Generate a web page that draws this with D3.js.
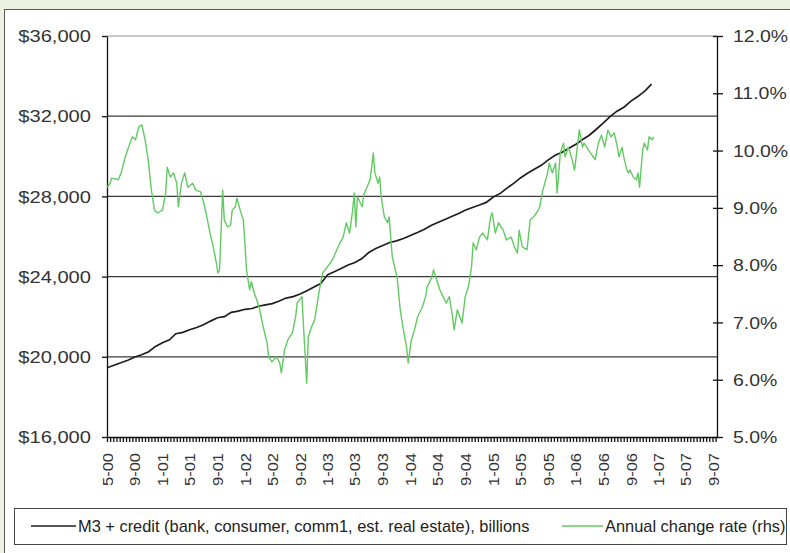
<!DOCTYPE html>
<html>
<head>
<meta charset="utf-8">
<script src="https://cdn.jsdelivr.net/npm/d3@7"></script>
<style>
  body { margin: 0; background: #edf2e0; }
  svg { display: block; font-family: "Liberation Sans", Arial, sans-serif; }
</style>
</head>
<body>
<script>
var svgWidth = 790;
var svgHeight = 553;

var margin = { top: 36, right: 73, bottom: 116, left: 107 };
var width = svgWidth - margin.left - margin.right;
var height = svgHeight - margin.top - margin.bottom;

// M3 + credit, billions, one value per month from May 2000
var m3Start = "2000-05-01";
var m3Credit = [
  19450, 19580, 19700, 19830, 19990, 20100, 20250, 20520, 20700, 20850,
  21150, 21220, 21350, 21460, 21600, 21780, 21950, 22000, 22220, 22280,
  22370, 22410, 22520, 22590, 22650, 22780, 22930, 23000, 23130, 23300,
  23480, 23650, 24100, 24250, 24400, 24580, 24700, 24900, 25200, 25400,
  25550, 25700, 25780, 25900, 26050, 26200, 26350, 26550, 26700, 26850,
  27000, 27150, 27320, 27450, 27570, 27700, 27970, 28150, 28400, 28650,
  28920, 29150, 29350, 29550, 29820, 30050, 30200, 30400, 30600, 30850,
  31050, 31350, 31650, 31980, 32250, 32450, 32750, 32980, 33250, 33600
];

// annual change rate (%), [weeks since first obs, value]
var rateStart = "2000-05-01";
var rateSeries = [
  [0, 9.36], [2, 9.43], [3, 9.52], [7, 9.49], [9, 9.61], [11, 9.84], [13, 10.01],
  [16, 10.24], [18, 10.19], [20, 10.41], [22, 10.45], [24, 10.19], [26, 9.84],
  [28, 9.31], [30, 8.96], [32, 8.91], [35, 8.96], [37, 9.26], [38, 9.71],
  [40, 9.54], [42, 9.61], [44, 9.43], [45, 9.02], [47, 9.43], [49, 9.61],
  [51, 9.36], [54, 9.43], [56, 9.31], [59, 9.28], [61, 9.09], [63, 8.84],
  [65, 8.56], [67, 8.32], [69, 8.04], [70, 7.86], [71, 7.92], [73, 9.31],
  [74, 8.79], [76, 8.67], [78, 8.70], [79, 8.96], [81, 9.02], [82, 9.17],
  [84, 8.96], [86, 8.79], [87, 8.39], [88, 7.92], [90, 7.57], [91, 7.71],
  [93, 7.51], [96, 7.27], [98, 6.99], [101, 6.64], [102, 6.40], [104, 6.31],
  [107, 6.40], [109, 6.29], [110, 6.12], [112, 6.52], [114, 6.69], [117, 6.82],
  [119, 7.10], [120, 7.34], [123, 7.45], [124, 6.92], [126, 5.94], [127, 6.75],
  [129, 6.92], [131, 7.04], [132, 7.22], [134, 7.57], [136, 7.86], [139, 7.97],
  [141, 8.04], [143, 8.14], [145, 8.27], [147, 8.39], [149, 8.49], [151, 8.74],
  [153, 8.56], [155, 8.96], [156, 9.26], [157, 8.67], [158, 9.19], [161, 9.02],
  [162, 9.23], [164, 9.36], [166, 9.49], [167, 9.71], [168, 9.96], [169, 9.61],
  [171, 9.43], [172, 9.54], [173, 9.19], [175, 8.84], [177, 8.74], [178, 8.84],
  [179, 8.49], [180, 8.14], [183, 7.79], [185, 7.22], [187, 6.87], [189, 6.57],
  [190, 6.29], [192, 6.69], [194, 6.87], [196, 7.10], [199, 7.27], [201, 7.45],
  [202, 7.62], [205, 7.79], [206, 7.92], [208, 7.74], [210, 7.57], [212, 7.45],
  [214, 7.34], [216, 7.45], [218, 7.10], [219, 6.87], [221, 7.22], [224, 6.99],
  [226, 7.45], [228, 7.62], [230, 7.97], [231, 8.39], [233, 8.27], [235, 8.49],
  [237, 8.56], [240, 8.44], [242, 8.84], [243, 8.91], [245, 8.56], [247, 8.74],
  [250, 8.61], [252, 8.44], [255, 8.49], [257, 8.32], [259, 8.21], [260, 8.61],
  [262, 8.32], [265, 8.27], [267, 8.79], [269, 8.84], [271, 8.91], [273, 9.02],
  [275, 9.31], [278, 9.61], [279, 9.78], [281, 9.61], [283, 9.78], [284, 9.26],
  [286, 9.96], [288, 10.13], [289, 9.89], [291, 10.06], [293, 9.89], [295, 9.66],
  [296, 9.89], [298, 10.36], [300, 10.06], [301, 10.13], [305, 9.96], [308, 9.84],
  [310, 10.13], [312, 10.27], [314, 10.06], [316, 10.36], [318, 10.24], [320, 10.31],
  [322, 10.06], [323, 9.89], [325, 10.06], [326, 9.89], [328, 9.66], [329, 9.61],
  [330, 9.66], [332, 9.54], [334, 9.49], [335, 9.61], [336, 9.36], [337, 9.71],
  [338, 10.01], [339, 10.13], [341, 10.01], [342, 10.24], [344, 10.19], [345, 10.24]
];

var leftTicks = [16000, 20000, 24000, 28000, 32000, 36000];
var gridValues = [20000, 24000, 28000, 32000];
var rightTicks = [5, 6, 7, 8, 9, 10, 11, 12];
var axisStart = "2000-05-01";
var axisEnd = "2007-09-16";

var legendLabels = [
  "M3 + credit (bank, consumer, comm1, est. real estate), billions",
  "Annual change rate (rhs)"
];

var parseDate = d3.timeParse("%Y-%m-%d");

var m3Data = m3Credit.map(function(v, i) {
  return { date: d3.timeMonth.offset(parseDate(m3Start), i), value: v };
});
var rateData = rateSeries.map(function(d) {
  return { date: d3.timeDay.offset(parseDate(rateStart), d[0] * 7), value: d[1] };
});

var svg = d3.select("body").append("svg")
  .attr("width", svgWidth)
  .attr("height", svgHeight);

// chart area frame
svg.append("rect")
  .attr("x", 4.5).attr("y", 9.5)
  .attr("width", 900).attr("height", 900)
  .attr("fill", "#fff")
  .attr("stroke", "#5a5a5a");

var chartGroup = svg.append("g")
  .attr("transform", `translate(${margin.left}, ${margin.top})`);

var xScale = d3.scaleTime()
  .domain([parseDate(axisStart), parseDate(axisEnd)])
  .range([0, width]);
var yLeft = d3.scaleLinear().domain([16000, 36000]).range([height, 0]);
var yRight = d3.scaleLinear().domain([5, 12]).range([height, 0]);

// top border and gridlines
chartGroup.append("line")
  .attr("x1", 0).attr("x2", width)
  .attr("y1", yLeft(36000)).attr("y2", yLeft(36000))
  .attr("stroke", "#c8c8c8").attr("stroke-width", 2);

chartGroup.selectAll(".grid")
  .data(gridValues).enter()
  .append("line")
  .attr("class", "grid")
  .attr("x1", 0).attr("x2", width)
  .attr("y1", d => yLeft(d)).attr("y2", d => yLeft(d))
  .attr("stroke", "#3a3a3a").attr("stroke-width", 1.2);

// left axis
var leftAxis = d3.axisLeft(yLeft)
  .tickValues(leftTicks)
  .tickSize(5)
  .tickSizeOuter(0)
  .tickFormat(d3.format("$,"));
var gl = chartGroup.append("g").attr("class", "y-axis").call(leftAxis);
gl.selectAll("text")
  .attr("x", -16 / 1.22)
  .attr("dy", "0.34em")
  .attr("transform", "scale(1.22,1)")
  .style("font-size", "16.5px")
  .style("fill", "#333");

// right axis
var rightAxis = d3.axisRight(yRight)
  .tickValues(rightTicks)
  .tickSize(6)
  .tickSizeOuter(0)
  .tickFormat(d => d.toFixed(1) + "%");
var gr = chartGroup.append("g")
  .attr("class", "y-axis-right")
  .attr("transform", `translate(${width}, 0)`)
  .call(rightAxis);
gr.selectAll(".tick line").attr("x1", -4);
gr.selectAll("text")
  .attr("x", 16 / 1.18)
  .attr("dy", "0.34em")
  .attr("transform", "scale(1.18,1)")
  .style("font-size", "16.5px")
  .style("fill", "#333");

// bottom axis: small marks every two weeks
var tickDates = d3.timeDay.range(parseDate(axisStart), parseDate(axisEnd), 14);
var xAxis = d3.axisBottom(xScale)
  .tickValues(tickDates)
  .tickSize(5)
  .tickSizeOuter(0)
  .tickFormat("");
chartGroup.append("g")
  .attr("class", "x-axis")
  .attr("transform", `translate(0, ${height})`)
  .call(xAxis);

// bottom labels every four months
var labelDates = d3.timeMonth.every(4).range(parseDate(axisStart), d3.timeDay.offset(parseDate(axisEnd), 1));
var xLabelAxis = d3.axisBottom(xScale)
  .tickValues(labelDates)
  .tickSize(0)
  .tickFormat(d3.timeFormat("%-m-%y"));
var gx = chartGroup.append("g")
  .attr("class", "x-labels")
  .attr("transform", `translate(0, ${height})`)
  .call(xLabelAxis);
gx.select(".domain").remove();
gx.selectAll("text")
  .attr("x", -16 / 1.18)
  .attr("y", 0)
  .attr("dy", "0.36em")
  .attr("transform", "rotate(-90) scale(1.18,1)")
  .style("text-anchor", "end")
  .style("font-size", "14px")
  .style("fill", "#333");

chartGroup.selectAll(".domain, .tick line")
  .attr("stroke", "#111")
  .attr("stroke-width", 1.3);

// series
var m3Line = d3.line()
  .x(d => xScale(d.date))
  .y(d => yLeft(d.value));
var rateLine = d3.line()
  .x(d => xScale(d.date))
  .y(d => yRight(d.value));

chartGroup.append("path")
  .datum(m3Data)
  .attr("fill", "none")
  .attr("stroke", "#1e1e1e")
  .attr("stroke-width", 1.7)
  .attr("d", m3Line);

chartGroup.append("path")
  .datum(rateData)
  .attr("fill", "none")
  .attr("stroke", "#62ca62")
  .attr("stroke-width", 1.4)
  .attr("stroke-linejoin", "round")
  .attr("d", rateLine);

// legend
var legend = svg.append("g");
legend.append("rect")
  .attr("x", 14.5).attr("y", 508.5)
  .attr("width", 772).attr("height", 36)
  .attr("fill", "#fff")
  .attr("stroke", "#444");

var legendItems = [
  { x1: 31, x2: 76, color: "#1e1e1e", label: legendLabels[0] },
  { x1: 562, x2: 603, color: "#62ca62", label: legendLabels[1] }
];
legendItems.forEach(function(item) {
  legend.append("line")
    .attr("x1", item.x1).attr("x2", item.x2)
    .attr("y1", 526).attr("y2", 526)
    .attr("stroke", item.color)
    .attr("stroke-width", 1.5);
  legend.append("text")
    .attr("x", item.x2 + 2)
    .attr("y", 532)
    .style("font-size", "16.4px")
    .style("fill", "#222")
    .text(item.label);
});
</script>
</body>
</html>
